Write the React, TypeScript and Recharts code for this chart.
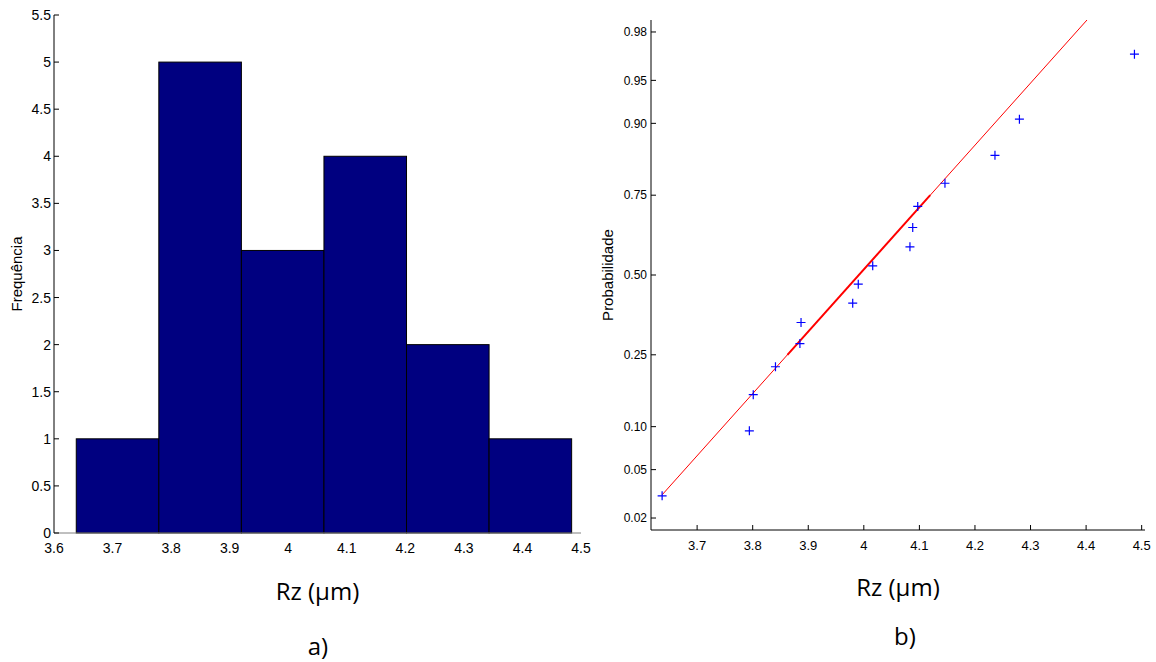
import React from "react";
import {
  ComposedChart,
  ScatterChart,
  Bar,
  Scatter,
  XAxis,
  YAxis,
} from "recharts";

// histogram (a)
const binCenters = [3.709, 3.85, 3.991, 4.132, 4.273, 4.414];
const binCounts = [1, 5, 3, 4, 2, 1];
const histXTicks = [3.6, 3.7, 3.8, 3.9, 4, 4.1, 4.2, 4.3, 4.4, 4.5];
const histYTicks = [0, 0.5, 1, 1.5, 2, 2.5, 3, 3.5, 4, 4.5, 5, 5.5];

// normal probability plot (b)
const rzValues = [
  3.637, 3.794, 3.801, 3.841, 3.885, 3.887, 3.98, 3.99, 4.016, 4.083, 4.088,
  4.097, 4.146, 4.236, 4.28, 4.487,
];
const rzProbs = [
  0.031, 0.094, 0.156, 0.219, 0.281, 0.344, 0.406, 0.469, 0.531, 0.594, 0.656,
  0.719, 0.781, 0.844, 0.906, 0.969,
];
const fitThinX = [3.637, 4.403];
const fitThinP = [0.0316, 0.9847];
const fitThickX = [3.8625, 4.1195];
const fitThickP = [0.25, 0.75];
const probTicks = [0.02, 0.05, 0.1, 0.25, 0.5, 0.75, 0.9, 0.95, 0.98];
const probTickLabels = ["0.02", "0.05", "0.10", "0.25", "0.50", "0.75", "0.90", "0.95", "0.98"];
const probXTicks = [3.7, 3.8, 3.9, 4, 4.1, 4.2, 4.3, 4.4, 4.5];

// inverse normal cdf (Acklam) -> probability axis is linear in z
function normInv(p: number): number {
  const a = [-39.69683028665376, 220.9460984245205, -275.9285104469687, 138.357751867269, -30.66479806614716, 2.506628277459239];
  const b = [-54.47609879822406, 161.5858368580409, -155.6989798598866, 66.80131188771972, -13.28068155288572];
  const c = [-0.007784894002430293, -0.3223964580411365, -2.400758277161838, -2.549732539343734, 4.374664141464968, 2.938163982698783];
  const d = [0.007784695709041462, 0.3224671290700398, 2.445134137142996, 3.754408661907416];
  const pl = 0.02425;
  if (p < pl) {
    const q = Math.sqrt(-2 * Math.log(p));
    return (((((c[0] * q + c[1]) * q + c[2]) * q + c[3]) * q + c[4]) * q + c[5]) /
      ((((d[0] * q + d[1]) * q + d[2]) * q + d[3]) * q + 1);
  }
  if (p <= 1 - pl) {
    const q = p - 0.5;
    const r = q * q;
    return ((((((a[0] * r + a[1]) * r + a[2]) * r + a[3]) * r + a[4]) * r + a[5]) * q) /
      (((((b[0] * r + b[1]) * r + b[2]) * r + b[3]) * r + b[4]) * r + 1);
  }
  const q = Math.sqrt(-2 * Math.log(1 - p));
  return -(((((c[0] * q + c[1]) * q + c[2]) * q + c[3]) * q + c[4]) * q + c[5]) /
    ((((d[0] * q + d[1]) * q + d[2]) * q + d[3]) * q + 1);
}

const histData = binCenters.map((bin, i) => ({ bin, count: binCounts[i] }));
const pointData = rzValues.map((x, i) => ({ x, z: normInv(rzProbs[i]) }));
const thinData = fitThinX.map((x, i) => ({ x, z: normInv(fitThinP[i]) }));
const thickData = fitThickX.map((x, i) => ({ x, z: normInv(fitThickP[i]) }));
const zTicks = probTicks.map(normInv);

const TICK_FONT = "'Liberation Sans', Arial, sans-serif";
const LABEL_FONT = "'Open Sans', sans-serif";

// left chart geometry
const H_W = 600;
const H_H = 620;
const H_MARGIN = { top: 15, right: 19, bottom: 57, left: 4 };
const H_YAXIS_W = 50;
const histPlotW = H_W - H_MARGIN.left - H_MARGIN.right - H_YAXIS_W;
const xMin = histXTicks[0];
const xMax = histXTicks[histXTicks.length - 1];
const binWidth = binCenters[1] - binCenters[0];
const binPx = (binWidth / (xMax - xMin)) * histPlotW;

// bars sit on a numeric axis; widen each to the full bin around its centre
const HistBar = (props: any) => {
  const { x, y, width, height } = props;
  if (height == null || height <= 0) return <g />;
  const cx = x + width / 2;
  return (
    <rect
      x={cx - binPx / 2}
      y={y}
      width={binPx}
      height={height}
      fill="#000080"
      stroke="#000"
      strokeWidth={1}
    />
  );
};

const PlusMarker = (props: any) => {
  const { cx, cy } = props;
  if (cx == null || cy == null) return <g />;
  return (
    <path
      d={`M${cx - 4.5},${cy}h9M${cx},${cy - 4.5}v9`}
      stroke="#0000ff"
      strokeWidth={1.2}
      fill="none"
    />
  );
};

const NoDot = () => <g />;

function probLabel(v: number) {
  const i = zTicks.findIndex((t) => Math.abs(t - v) < 1e-6);
  return i >= 0 ? probTickLabels[i] : "";
}

const captionStyle = {
  position: "absolute" as const,
  width: 100,
  textAlign: "center" as const,
  fontFamily: LABEL_FONT,
  fontSize: 24,
  lineHeight: "24px",
  color: "#000",
};

export default function App() {
  return (
    <div
      style={{
        position: "absolute",
        left: 0,
        top: 0,
        width: 1156,
        height: 662,
        background: "#fff",
        overflow: "hidden",
      }}
    >
      <div style={{ position: "absolute", left: 0, top: 0 }}>
        <ComposedChart width={H_W} height={H_H} data={histData} margin={H_MARGIN}>
          <XAxis
            type="number"
            dataKey="bin"
            domain={[xMin, xMax]}
            ticks={histXTicks}
            interval={0}
            allowDataOverflow
            height={30}
            tickSize={-5}
            tickMargin={15}
            stroke="#808080"
            tickLine={false}
            tick={{ fill: "#000", fontSize: 14, fontFamily: TICK_FONT }}
            label={{
              value: "Rz (μm)",
              position: "bottom",
              offset: 20,
              style: { fill: "#000", fontSize: 24, fontFamily: LABEL_FONT },
            }}
          />
          <YAxis
            type="number"
            domain={[0, 5.5]}
            ticks={histYTicks}
            interval={0}
            width={H_YAXIS_W}
            tickSize={-5}
            tickMargin={8}
            stroke="#000"
            tick={{ fill: "#000", fontSize: 14, fontFamily: TICK_FONT }}
            label={{
              value: "Frequência",
              angle: -90,
              position: "insideLeft",
              offset: 13,
              style: { textAnchor: "middle", fill: "#000", fontSize: 15, fontFamily: TICK_FONT },
            }}
          />
          <Bar
            dataKey="count"
            barSize={20}
            shape={HistBar}
            isAnimationActive={false}
          />
        </ComposedChart>
      </div>

      <div style={{ position: "absolute", left: 600, top: 0 }}>
        <ScatterChart
          width={556}
          height={620}
          margin={{ top: 20, right: 11, bottom: 60, left: 2 }}
        >
          <XAxis
            type="number"
            dataKey="x"
            domain={[3.617, 4.506]}
            ticks={probXTicks}
            interval={0}
            allowDataOverflow
            height={30}
            tickSize={-5}
            tickMargin={15.5}
            stroke="#000"
            tick={{ fill: "#000", fontSize: 13, fontFamily: TICK_FONT }}
            label={{
              value: "Rz (μm)",
              position: "bottom",
              offset: 19,
              style: { fill: "#000", fontSize: 24, fontFamily: LABEL_FONT },
            }}
          />
          <YAxis
            type="number"
            dataKey="z"
            domain={[-2.155, 2.155]}
            ticks={zTicks}
            interval={0}
            allowDataOverflow
            width={49}
            tickSize={-5}
            tickMargin={9}
            stroke="#000"
            tickFormatter={probLabel}
            tick={{ fill: "#000", fontSize: 12, fontFamily: TICK_FONT }}
            label={{
              value: "Probabilidade",
              angle: -90,
              position: "insideLeft",
              offset: 6,
              style: { textAnchor: "middle", fill: "#000", fontSize: 15, fontFamily: TICK_FONT },
            }}
          />
          <Scatter
            data={thinData}
            line={{ stroke: "#ff0000", strokeWidth: 1 }}
            shape={NoDot}
            isAnimationActive={false}
          />
          <Scatter
            data={thickData}
            line={{ stroke: "#ff0000", strokeWidth: 2 }}
            shape={NoDot}
            isAnimationActive={false}
          />
          <Scatter data={pointData} shape={PlusMarker} isAnimationActive={false} />
        </ScatterChart>
      </div>

      <div style={{ ...captionStyle, left: 268, top: 634 }}>a)</div>
      <div style={{ ...captionStyle, left: 855, top: 624 }}>b)</div>
    </div>
  );
}
